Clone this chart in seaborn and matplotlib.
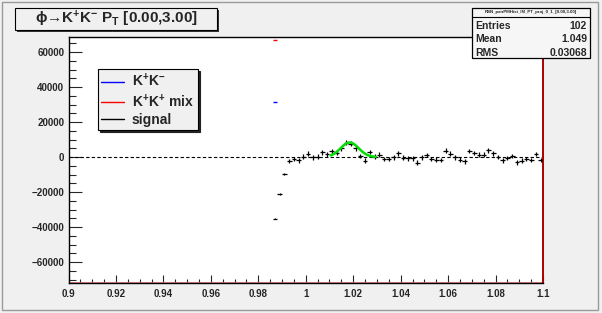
import numpy as np
import matplotlib
matplotlib.use("Agg")
import matplotlib.pyplot as plt
import seaborn as sns
from matplotlib.patches import Rectangle
from matplotlib.lines import Line2D
from matplotlib.ticker import MultipleLocator

# signal = K+K- minus K+K+ mix, bin centres (bin width 0.002)
sig_x = [0.987, 0.989, 0.991, 0.993, 0.995, 0.997, 0.999, 1.001, 1.003, 1.005,
         1.007, 1.009, 1.011, 1.013, 1.015, 1.017, 1.019, 1.021, 1.023, 1.025,
         1.027, 1.029, 1.031, 1.033, 1.035, 1.037, 1.039, 1.041, 1.043, 1.045,
         1.047, 1.049, 1.051, 1.053, 1.055, 1.057, 1.059, 1.061, 1.063, 1.065,
         1.067, 1.069, 1.071, 1.073, 1.075, 1.077, 1.079, 1.081, 1.083, 1.085,
         1.087, 1.089, 1.091, 1.093, 1.095, 1.097, 1.099]
sig_y = [-35400, -21100, -9900, -2400, -1000, -1900, 200, 1900, -200, 200,
         2700, 1500, 3200, 2500, 5000, 8200, 7600, 5000, 600, -2000,
         3000, 200, 1300, -1000, -1000, -200, 2100, -400, -700, -700,
         -3200, -200, 1100, -1100, -1500, -1700, 3600, 1900, -200, -1500,
         -2500, 3400, 2300, 1300, 1300, 3800, 2100, 0, -1900, -600,
         600, -3000, -2100, -1000, -1700, 1700, -1700]
sig_err = [300, 400, 600] + [1300] * 54

# same-sign / opposite-sign points visible inside the frame
kk_x, kk_y = [0.987], [31400]
mix_x, mix_y = [0.987], [66600]

# gaussian fit (green)
fit_amp, fit_mean, fit_sigma = 8300, 1.0185, 0.0038
fit_range = (1.0105, 1.0295)

stats_title = "RSN_pairPMHist_IM_PT_proj_0_1_[0.00,3.00]"
stats_rows = [("Entries", "102"), ("Mean", "1.049"), ("RMS", "0.03068")]

W, H = 602, 313
BG = "#f0f0f0"

sns.set_style("ticks")
plt.rcParams["font.family"] = ["Liberation Sans", "DejaVu Sans"]
plt.rcParams["font.weight"] = "bold"
plt.rcParams["mathtext.fontset"] = "custom"
plt.rcParams["mathtext.rm"] = "Liberation Sans:bold"
plt.rcParams["mathtext.it"] = "Liberation Sans:bold"
plt.rcParams["mathtext.bf"] = "Liberation Sans:bold"

fig = plt.figure(figsize=(W / 100, H / 100), dpi=100, facecolor=BG)


def fx(x):
    return x / W


def fy(y):
    return 1 - y / H


# canvas bevel
fig.patches.append(Rectangle((fx(2), fy(310)), fx(596), 308 / H, transform=fig.transFigure,
                             fill=False, edgecolor="#9a9a9a", lw=1.0))

ax = fig.add_axes([fx(68.5), fy(283), fx(543 - 68.5), (283 - 37) / H])
ax.set_facecolor("white")

ax.axhline(0, color="black", lw=0.8, ls=(0, (3, 2)), zorder=1)
ax.errorbar(sig_x, sig_y, xerr=0.001, yerr=sig_err, fmt="none", ecolor="black",
            elinewidth=0.9, capsize=0, zorder=3)
ax.errorbar(kk_x, kk_y, xerr=0.001, fmt="none", ecolor="blue", elinewidth=1.0, zorder=3)
ax.errorbar(mix_x, mix_y, xerr=0.001, fmt="none", ecolor="red", elinewidth=1.0, zorder=3)

fx_vals = np.linspace(fit_range[0], fit_range[1], 80)
fy_vals = fit_amp * np.exp(-0.5 * ((fx_vals - fit_mean) / fit_sigma) ** 2)
sns.lineplot(x=fx_vals, y=fy_vals, color="#00dd00", lw=1.8, ax=ax, zorder=4)

ax.set_xlim(0.9, 1.1)
ax.set_ylim(-72000, 68600)
ax.axhline(-72000 + 350, color="#e07070", lw=0.6, zorder=2)

ax.xaxis.set_major_locator(MultipleLocator(0.02))
ax.xaxis.set_minor_locator(MultipleLocator(0.005))
ax.yaxis.set_major_locator(MultipleLocator(20000))
ax.yaxis.set_minor_locator(MultipleLocator(5000))
ax.set_xticks([round(0.9 + 0.02 * i, 2) for i in range(11)])
ax.set_xticklabels(["0.9", "0.92", "0.94", "0.96", "0.98", "1", "1.02", "1.04",
                    "1.06", "1.08", "1.1"])
ax.tick_params(axis="x", which="major", direction="in", length=5.5, width=0.8,
               labelsize=7, pad=4)
ax.tick_params(axis="x", which="minor", direction="in", length=2.8, width=0.8)
ax.tick_params(axis="y", which="major", direction="in", length=9.5, width=0.8,
               labelsize=7, pad=3)
ax.tick_params(axis="y", which="minor", direction="in", length=5, width=0.8)
for lab in ax.get_xticklabels() + ax.get_yticklabels():
    lab.set_fontweight("bold")

for s in ["left", "top", "bottom"]:
    ax.spines[s].set_color("black")
    ax.spines[s].set_linewidth(1.0)
ax.spines["right"].set_color("#aa0000")
ax.spines["right"].set_linewidth(1.4)
ax.spines["top"].set_visible(True)
ax.spines["right"].set_visible(True)

handles = [Line2D([], [], color="blue", lw=1.0),
           Line2D([], [], color="red", lw=1.0),
           Line2D([], [], color="black", lw=1.0)]
labels = ["K$^{+}$K$^{-}$", "K$^{+}$K$^{+}$ mix", "signal"]
leg = ax.legend(handles, labels, loc="upper left",
                bbox_to_anchor=((98 - 68.5) / 474.5, (283 - 69) / 246),
                frameon=True, fancybox=False,
                shadow={"color": "#222222", "alpha": 1, "ox": 1.5, "oy": -1.5},
                prop={"size": 10, "weight": "bold"}, handlelength=1.6,
                handletextpad=0.6, labelspacing=0.2, borderpad=0.25,
                borderaxespad=0, facecolor=BG, framealpha=1, edgecolor="black")
leg.get_frame().set_linewidth(0.8)

# title box
fig.patches.append(Rectangle((fx(17), fy(32)), fx(202), 22 / H, transform=fig.transFigure,
                             facecolor="#333333", edgecolor="none"))
fig.patches.append(Rectangle((fx(15), fy(30)), fx(202), 22 / H, transform=fig.transFigure,
                             facecolor=BG, edgecolor="black", lw=0.8))
fig.text(fx(116), fy(19), "ϕ→K$^{+}$K$^{-}$ P$_{T}$ [0.00,3.00]", ha="center", va="center",
         fontsize=11, fontweight="bold")

# stats box
fig.patches.append(Rectangle((fx(472), fy(58)), fx(118), 50 / H, transform=fig.transFigure,
                             facecolor="#f6f6f6", edgecolor="black", lw=0.9))
fig.lines.append(Line2D([fx(472), fx(590)], [fy(17), fy(17)], transform=fig.transFigure,
                        color="black", lw=0.8))
fig.text(fx(531), fy(12.5), stats_title, ha="center", va="center", fontsize=3.2,
         fontweight="bold")
for i, (k, v) in enumerate(stats_rows):
    yy = fy(26 + 13.5 * i)
    fig.text(fx(475), yy, k, ha="left", va="center", fontsize=7.5, fontweight="bold")
    fig.text(fx(587), yy, v, ha="right", va="center", fontsize=7.5, fontweight="bold")

fig.savefig("out.png", dpi=100, facecolor=BG)
